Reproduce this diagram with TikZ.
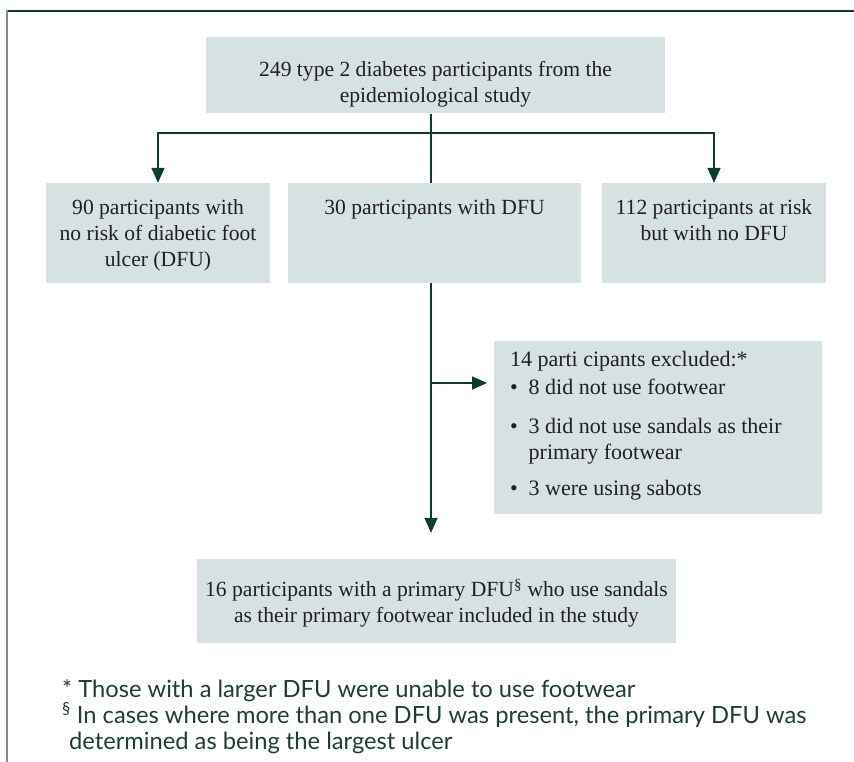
\documentclass[tikz,border=0pt]{standalone}
\usepackage{fontspec}
\setmainfont{Liberation Serif}
\setsansfont{Lato}
\usetikzlibrary{arrows.meta}
\definecolor{flowline}{HTML}{0B3D2E}
\definecolor{framegrey}{HTML}{7D8F88}
\definecolor{boxfill}{HTML}{D6E1E1}
\definecolor{boxtext}{HTML}{231F20}
\definecolor{notetext}{HTML}{1B3F36}
\newcommand{\boxfont}{\fontsize{21.6}{25.8}\selectfont}
\newcommand{\notefont}{\fontsize{23.7}{25.5}\sffamily}
\tikzset{
  flowbox/.style={fill=boxfill, inner sep=0pt},
  boxlabel/.style={font=\boxfont, text=boxtext, align=center, anchor=north, inner sep=0pt},
  flowlink/.style={draw=flowline, line width=1.6pt},
  flowarrow/.style={flowlink, -{Triangle[length=15pt,width=13pt]}},
  footnote/.style={font=\notefont, text=notetext, align=left, anchor=base west, inner sep=0pt}
}
\begin{document}
\begin{tikzpicture}[x=1pt,y=-1pt]
\useasboundingbox (0,0) rectangle (854,762);
% frame
\draw[draw=flowline, line width=1.4pt] (6,11) -- (854,11);
\draw[draw=framegrey, line width=2pt] (7,10) -- (7,762);

% boxes
\node[flowbox, minimum width=459pt, minimum height=76pt,
  label={[boxlabel, yshift=-24pt]north:249 type 2 diabetes participants from the\\epidemiological study}]
  (study) at (435.5,75.5) {};
\node[flowbox, minimum width=224pt, minimum height=100pt,
  label={[boxlabel, yshift=-17pt]north:90 participants with\\no risk of diabetic foot\\ulcer (DFU)}]
  (norisk) at (158,233) {};
\node[flowbox, minimum width=293pt, minimum height=100pt,
  label={[boxlabel, yshift=-17pt]north:30 participants with DFU}]
  (dfu) at (434.5,233) {};
\node[flowbox, minimum width=224pt, minimum height=100pt,
  label={[boxlabel, yshift=-17pt]north:112 participants at risk\\but with no DFU}]
  (atrisk) at (714,233) {};
\node[flowbox, minimum width=328pt, minimum height=173pt,
  label={[boxlabel, align=left, anchor=north west, xshift=16pt, yshift=-10pt, font=\fontsize{22}{26.5}\selectfont]north west:14 parti cipants excluded:*\\[2pt]
    \textbullet\enspace 8 did not use footwear\\[12pt]
    \textbullet\enspace 3 did not use sandals as their\\
    \phantom{\textbullet\enspace}primary footwear\\[9pt]
    \textbullet\enspace 3 were using sabots}]
  (excluded) at (658,427.5) {};
\node[flowbox, minimum width=479pt, minimum height=84pt,
  label={[boxlabel, yshift=-20pt]north:16 participants with a primary DFU\textsuperscript{\S} who use sandals\\as their primary footwear included in the study}]
  (included) at (436.5,601) {};

% connectors
\coordinate (split) at (431,133);
\coordinate (exclarrow) at (487,383);
\draw[flowlink] (study.south -| split) -- (dfu.north -| split);
\draw[flowarrow] (split) -| (norisk.north);
\draw[flowarrow] (split) -| (atrisk.north);
\draw[flowarrow] (dfu.south -| split) -- ([yshift=26pt]included.north -| split);
\draw[flowarrow] (exclarrow -| split) -- (exclarrow);

% footnotes
\node[footnote] (note1) at (62,697) {* Those with a larger DFU were unable to use footwear};
\node[footnote] (note2) at (62,749) {\textsuperscript{\S}\ In cases where more than one DFU was present, the primary DFU was\\\hspace*{7pt}determined as being the largest ulcer};
\end{tikzpicture}
\end{document}
